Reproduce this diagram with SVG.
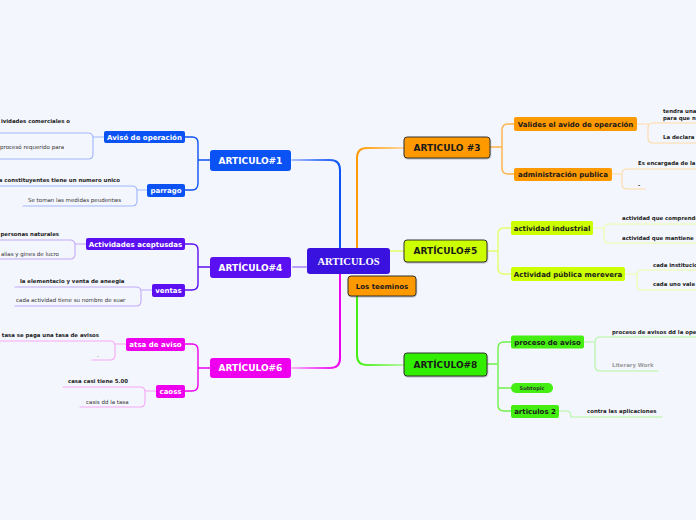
<svg xmlns="http://www.w3.org/2000/svg" width="696" height="520" viewBox="0 0 696 520">
<defs>
<style>
.t{font-family:"DejaVu Sans",Verdana,sans-serif;}
.main{font-size:9px;font-weight:bold;text-anchor:middle;}
.sub{font-size:7px;font-weight:bold;text-anchor:middle;}
.cb{font-size:5.4px;font-weight:bold;fill:#222;}
.cn{font-size:5.5px;fill:#333;}
.w{fill:#fff;}
.d{fill:#1a1a1a;}
.ln{fill:none;stroke-linecap:round;stroke-linejoin:round;}
.m{stroke-width:2;}
.b{stroke-width:1.4;}
.c{stroke-width:1.1;}
.bord{stroke:#333;stroke-width:1;}
</style>
<linearGradient id="gBlue" gradientUnits="userSpaceOnUse" x1="292" y1="0" x2="340" y2="0"><stop offset="0" stop-color="#a9bffc"/><stop offset="1" stop-color="#0b52f5"/></linearGradient>
<linearGradient id="gMag" gradientUnits="userSpaceOnUse" x1="292" y1="0" x2="340" y2="0"><stop offset="0" stop-color="#f7b0f7"/><stop offset="1" stop-color="#ee00ee"/></linearGradient>
<linearGradient id="gOr" gradientUnits="userSpaceOnUse" x1="357" y1="0" x2="404" y2="0"><stop offset="0" stop-color="#ff9900"/><stop offset="1" stop-color="#ffd8a0"/></linearGradient>
<linearGradient id="gGr" gradientUnits="userSpaceOnUse" x1="357" y1="0" x2="404" y2="0"><stop offset="0" stop-color="#44ee11"/><stop offset="1" stop-color="#b6f7a6"/></linearGradient>
<filter id="sh" x="-10%" y="-20%" width="120%" height="150%"><feDropShadow dx="0.5" dy="1" stdDeviation="0.6" flood-color="#000" flood-opacity="0.25"/></filter>
</defs>
<rect width="696" height="520" fill="#f4f6fd"/>

<g id="connectors">
<!-- main branches -->
<path class="ln m" stroke="url(#gBlue)" d="M292,160 H330 Q340,160 340,170 V248"/>
<path class="ln m" stroke="#b8a0f8" d="M293,267 H306"/>
<path class="ln m" stroke="url(#gMag)" d="M340,274 V358 Q340,368 330,368 H292"/>
<path class="ln m" stroke="url(#gOr)" d="M357,248 V158 Q357,148 367,148 H404"/>
<path class="ln m" stroke="#e6ff8c" d="M390,251 H404"/>
<path class="ln m" stroke="url(#gGr)" d="M357,296 V355 Q357,365 367,365 H404"/>

<!-- left level 1 brackets -->
<path class="ln b" stroke="#0b52f5" d="M210,160 H198 M185,137 H192 Q198,137 198,143 V183 Q198,190 192,190 H185"/>
<path class="ln b" stroke="#5a10f0" d="M210,267 H198 M185,244 H192 Q198,244 198,250 V284 Q198,290 192,290 H185"/>
<path class="ln b" stroke="#ee00ee" d="M210,368 H198 M185,344 H192 Q198,344 198,350 V385 Q198,391 192,391 H185"/>

<!-- right level 1 brackets -->
<path class="ln b" stroke="#ffb347" d="M490,147 H502 M514,124 H508 Q502,124 502,130 V168 Q502,174 508,174 H514"/>
<path class="ln b" stroke="#e2ff6a" d="M487,251 H498 M511,228 H504 Q498,228 498,234 V268 Q498,274 504,274 H511"/>
<path class="ln b" stroke="#6ef24a" d="M487,364 H498 M511,342 H504 Q498,342 498,348 V405 Q498,411 504,411 H511 M498,388 H511"/>

<!-- left level 2 -->
<path class="ln c" stroke="#9fb6fb" d="M104,137 H93 M0,133 H88 Q93,133 93,138 V154 Q93,159 88,159 H0"/>
<path class="ln c" stroke="#9fb6fb" d="M147,190 H137 M0,186 H132 Q137,186 137,191 V201 Q137,206 132,206 H23"/>
<path class="ln c" stroke="#c2aaf8" d="M86,244 H75 M0,240 H70 Q75,240 75,245 V254 Q75,259 70,259 H0"/>
<path class="ln c" stroke="#c2aaf8" d="M152,290 H141 M15,287 H136 Q141,287 141,292 V301 Q141,306 136,306 H15"/>
<path class="ln c" stroke="#f6a6f6" d="M126,344 H115 M0,341 H110 Q115,341 115,346 V355 Q115,360 110,360 H92"/>
<path class="ln c" stroke="#f6a6f6" d="M156,391 H145 M63,387 H140 Q145,387 145,392 V402 Q145,407 140,407 H80"/>

<!-- right level 2 -->
<path class="ln c" stroke="#ffd9a6" d="M637,124 H648 M696,123 H653 Q648,123 648,128 V138 Q648,143 653,143 H696"/>
<path class="ln c" stroke="#ffd9a6" d="M612,174 H622 M696,169 H627 Q622,169 622,174 V184 Q622,189 627,189 H645"/>
<path class="ln c" stroke="#ecffa6" d="M593,228 H604 M696,224 H609 Q604,224 604,229 V238 Q604,243 609,243 H696"/>
<path class="ln c" stroke="#ecffa6" d="M625,274 H637 M696,270 H642 Q637,270 637,275 V285 Q637,290 642,290 H696"/>
<path class="ln c" stroke="#b0f5a0" d="M584,342 H595 M696,337 H600 Q595,337 595,342 V366 Q595,371 600,371 H658"/>
<path class="ln c" stroke="#b0f5a0" d="M559,411 H566 Q571,411 571,416 V417 H662"/>
</g>

<g id="center" class="t">
<rect x="307" y="248" width="83" height="26" rx="3" fill="#3a12df"/>
<text x="348.5" y="264.8" font-family="'Liberation Serif',serif" font-size="10.5" font-weight="bold" fill="#fff" text-anchor="middle">ARTICULOS</text>
</g>
<g id="los-teeminos" class="t">
<rect x="348" y="276" width="68" height="20" rx="3" fill="#ff9900" class="bord" filter="url(#sh)"/>
<text x="382" y="288.5" class="sub d">Los teeminos</text>
</g>

<g id="articulo1" class="t">
<rect x="210" y="150" width="81" height="21" rx="3" fill="#0b52f5"/>
<text x="250.5" y="163.7" class="main w">ARTICULO#1</text>
</g>
<g id="articulo4" class="t">
<rect x="210" y="257" width="81" height="21" rx="3" fill="#5a10f0"/>
<text x="250.5" y="270.7" class="main w">ARTÍCULO#4</text>
</g>
<g id="articulo6" class="t">
<rect x="210" y="358" width="81" height="20" rx="3" fill="#ee00ee"/>
<text x="250.5" y="371.2" class="main w">ARTÍCULO#6</text>
</g>
<g id="articulo3" class="t">
<rect x="404" y="137" width="86" height="21" rx="3" fill="#ff9900" class="bord" filter="url(#sh)"/>
<text x="447" y="150.7" class="main d">ARTICULO #3</text>
</g>
<g id="articulo5" class="t">
<rect x="404" y="240" width="83" height="22" rx="3" fill="#ccff00" class="bord" filter="url(#sh)"/>
<text x="445.5" y="254.2" class="main d">ARTÍCULO#5</text>
</g>
<g id="articulo8" class="t">
<rect x="404" y="353" width="83" height="23" rx="3" fill="#33ee00" class="bord" filter="url(#sh)"/>
<text x="445.5" y="367.7" class="main d">ARTÍCULO#8</text>
</g>

<!-- left subnodes -->
<g id="aviso-operacion" class="t">
<rect x="104" y="131" width="81" height="12" rx="2" fill="#0b52f5"/>
<text x="144.5" y="139.5" class="sub w">Avisó de operación</text>
</g>
<g id="parrago" class="t">
<rect x="147" y="184" width="38" height="13" rx="2" fill="#0b52f5"/>
<text x="166" y="193" class="sub w">parrago</text>
</g>
<g id="actividades-aceptusdas" class="t">
<rect x="86" y="238" width="99" height="12" rx="2" fill="#5a10f0"/>
<text x="135.5" y="246.5" class="sub w">Actividades aceptusdas</text>
</g>
<g id="ventas" class="t">
<rect x="152" y="284" width="33" height="13" rx="2" fill="#5a10f0"/>
<text x="168.5" y="293" class="sub w">ventas</text>
</g>
<g id="atsa-de-aviso" class="t">
<rect x="126" y="338" width="59" height="13" rx="2" fill="#ee00ee"/>
<text x="155.5" y="347" class="sub w">atsa de aviso</text>
</g>
<g id="caoss" class="t">
<rect x="156" y="385" width="29" height="13" rx="2" fill="#ee00ee"/>
<text x="170.5" y="394" class="sub w">caoss</text>
</g>

<!-- right subnodes -->
<g id="valides" class="t">
<rect x="514" y="117" width="123" height="14" rx="2" fill="#ff9900"/>
<text x="575.5" y="126.5" class="sub d">Valides el avido de operación</text>
</g>
<g id="administracion-publica" class="t">
<rect x="514" y="168" width="98" height="13" rx="2" fill="#ff9900"/>
<text x="563" y="177" class="sub d">administración publica</text>
</g>
<g id="actividad-industrial" class="t">
<rect x="511" y="221" width="82" height="14" rx="2" fill="#ccff00"/>
<text x="552" y="230.5" class="sub d">actividad industrial</text>
</g>
<g id="actividad-publica" class="t">
<rect x="511" y="267" width="114" height="14" rx="2" fill="#ccff00"/>
<text x="568" y="276.5" class="sub d">Actividad pública merevera</text>
</g>
<g id="proceso-de-aviso" class="t">
<rect x="511" y="335.5" width="73" height="13" rx="2" fill="#44ee11"/>
<text x="547.5" y="344.5" class="sub d">proceso de aviso</text>
</g>
<g id="subtopic" class="t">
<rect x="511" y="383" width="42" height="10" rx="5" fill="#44ee11"/>
<text x="532" y="389.8" font-size="5" font-weight="bold" fill="#2a3a2a" text-anchor="middle">Subtopic</text>
</g>
<g id="articulos-2" class="t">
<rect x="511" y="405" width="48" height="13" rx="2" fill="#44ee11"/>
<text x="535" y="414" class="sub d">articulos 2</text>
</g>

<!-- left leaf texts -->
<g id="leaf-left" class="t">
<text x="70" y="123" class="cb" text-anchor="end">ividades comerciales o</text>
<text x="0" y="149" class="cn">procesó requerido para</text>
<text x="120" y="182" class="cb" text-anchor="end">a constituyentes tiene un numero unico</text>
<text x="28" y="202" class="cn">Se toman las medidas peudentws</text>
<text x="59" y="236" class="cb" text-anchor="end">personas naturales</text>
<text x="59" y="256" class="cn" text-anchor="end">alias y gines de lucro</text>
<text x="20" y="283" class="cb">la elementacio y venta de aneegia</text>
<text x="16" y="302" class="cn">cada actividad tiene su nombre de suar</text>
<text x="99" y="337" class="cb" text-anchor="end">tasa se paga una tasa de avisos</text>
<text x="97" y="357" class="cn">.</text>
<text x="68" y="383" class="cb">casa casi tiene 5.00</text>
<text x="86" y="404" class="cn">casis dd la tasa</text>
</g>

<!-- right leaf texts -->
<g id="leaf-right" class="t">
<text x="663" y="113" class="cb">tendra una</text>
<text x="663" y="120" class="cb">para que n</text>
<text x="663" y="139" class="cb">La declara</text>
<text x="638" y="165" class="cb">Es encargada de la</text>
<text x="638" y="187" class="cb">-</text>
<text x="622" y="220" class="cb">actividad que comprende</text>
<text x="622" y="240" class="cb">actividad que mantiene</text>
<text x="653" y="267" class="cb">cada institucio</text>
<text x="653" y="286" class="cb">cada uno vale</text>
<text x="612" y="334" class="cb">proceso de avisos dd la ope</text>
<text x="612" y="367" class="cb" style="fill:#9a9a9a">Literary Work</text>
<text x="587" y="413" class="cb">contra las aplicaciones</text>
</g>
</svg>
